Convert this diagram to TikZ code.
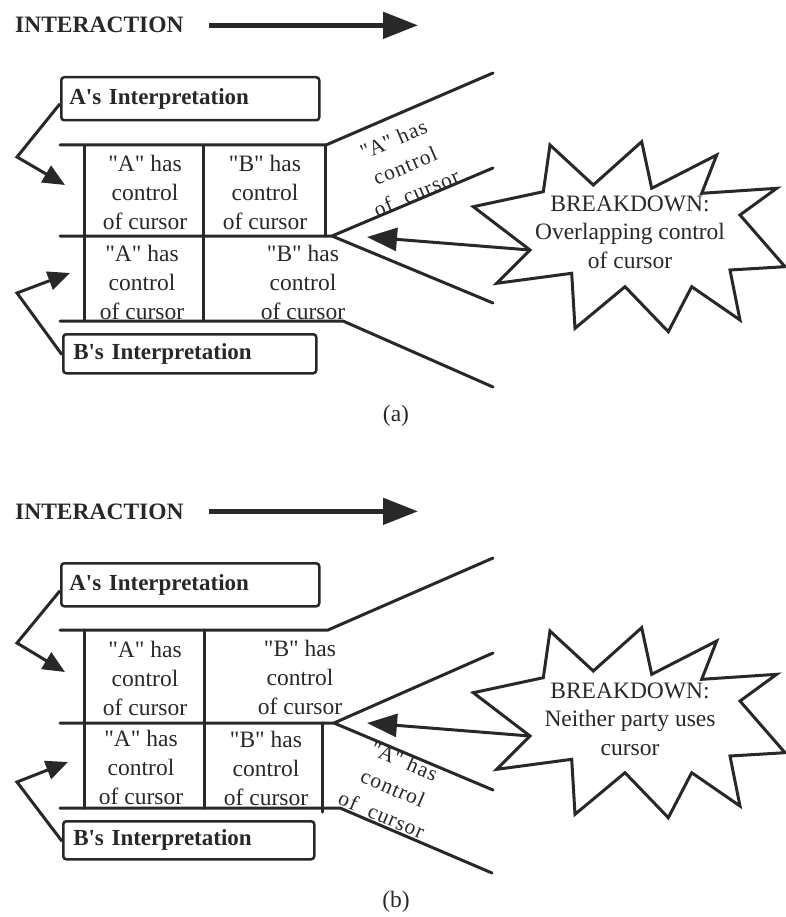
\documentclass[tikz,border=0pt]{standalone}
\usepackage{fontspec}
\setmainfont{Liberation Serif}
\usetikzlibrary{arrows.meta}
\definecolor{ink}{RGB}{40,40,40}
\newcommand\sq{\textquotesingle}
\newcommand\dq{\textquotedbl}
\begin{document}
\begin{tikzpicture}[x=1pt, y=-1pt,
  every node/.style={text=ink, inner sep=0pt},
  rule/.style={draw=ink, line width=3pt, line cap=round},
  heading/.style={anchor=base west, font=\bfseries\fontsize{23.5}{28}\selectfont},
  flowarrow/.style={draw=ink, line width=5pt, -{Triangle[length=35pt,width=26pt]}},
  labelbox/.style={draw=ink, line width=2.5pt, rounded corners=3pt, anchor=north west,
    minimum height=43pt, inner xsep=8pt, text width=242pt, align=left,
    font=\bfseries\fontsize{23}{28}\selectfont},
  labelarrow/.style={draw=ink, line width=3pt, -{Triangle[length=22pt,width=19pt]}},
  cell/.style={align=center, font=\fontsize{23.5}{29}\selectfont},
  slanted/.style={align=center, font=\fontsize{21.5}{29}\selectfont\addfontfeature{LetterSpace=5}},
  burstline/.style={draw=ink, line width=3pt, fill=white},
  bursttext/.style={align=center, font=\fontsize{23.5}{28.5}\selectfont},
  burstarrow/.style={draw=ink, line width=3pt, -{Triangle[length=30pt,width=23pt]}},
  caption/.style={font=\fontsize{23.5}{28}\selectfont}
]
\useasboundingbox (0,0) rectangle (785,917);

% ---------------- panel (a): overlapping control ----------------
\node[heading] (a-head) at (15,33) {INTERACTION};
\coordinate (a-flowend) at (418,25);
\draw[flowarrow] ([xshift=25pt]a-head.east) -- (a-head.east -| a-flowend);

\node[labelbox] (a-Abox) at (60,76) {A\sq s Interpretation};
\node[labelbox, minimum height=39pt, inner xsep=10pt, text width=233pt] (a-Bbox) at (62,333) {B\sq s Interpretation};

% time lines of the two interpretations
\coordinate (a-fork) at (332,236);
\draw[rule] (60,145) -- (326,145) -- (493,73);
\draw[rule] (60,236) -- (a-fork) -- (493,168);
\draw[rule] (a-fork) -- (493,303);
\draw[rule] (60,321) -- (343,321) -- (493,387);
\draw[rule] (84,145) -- (84,321);
\draw[rule] (203,145) -- (203,321);
\draw[rule] (325,145) -- (325,236);

\node[cell] (a-c11) at (145,192) {\dq A\dq{} has\\control\\of cursor};
\node[cell] (a-c12) at (265,192) {\dq B\dq{} has\\control\\of cursor};
\node[cell] (a-c21) at (142,282) {\dq A\dq{} has\\control\\of cursor};
\node[cell] (a-c22) at (303,282) {\dq B\dq{} has\\control\\of cursor};
\node[slanted, rotate=23] (a-slant) at (405,166) {\dq A\dq{} has\\control\\of\ \ cursor};

\draw[labelarrow] ([yshift=-5pt]a-Abox.west) -- (17,157) -- (65,185);
\draw[labelarrow] ([yshift=-1pt]a-Bbox.west) -- (17,293) -- (70,273);

% breakdown callout
\coordinate (a-burstin) at (530,250);
\draw[burstline] (473.3,206.7) -- (543.3,191.7) -- (550,145) -- (593.3,185)
  -- (641.7,141.7) -- (651.7,188.3) -- (716.7,155) -- (701.7,193.3)
  -- (776.7,188.3) -- (740,215) -- (785,266.7) -- (730,270) -- (740,320)
  -- (691.7,286.7) -- (668.3,331.7) -- (625,286.7) -- (575,328.3)
  -- (571.7,273.3) -- (496.7,283.3) -- (a-burstin) -- cycle;
\node[bursttext] (a-burst) at (630,232) {BREAKDOWN:\\Overlapping control\\of cursor};
\coordinate (a-tip) at (367,237);
\draw[burstarrow] (a-burstin) -- (a-tip);

\node[caption] (a-cap) at (396,416) {(a)};

% ---------------- panel (b): neither party uses the cursor ----------------
\begin{scope}[shift={(0,486)}]
\node[heading] (b-head) at (15,33) {INTERACTION};
\coordinate (b-flowend) at (418,25);
\draw[flowarrow] ([xshift=25pt]b-head.east) -- (b-head.east -| b-flowend);

\node[labelbox] (b-Abox) at (60,76) {A\sq s Interpretation};
\node[labelbox, minimum height=38pt, inner xsep=10pt, text width=231pt] (b-Bbox) at (62,334) {B\sq s Interpretation};

\coordinate (b-fork) at (334,237);
\draw[rule] (60,144) -- (328,144) -- (493,72);
\draw[rule] (60,237) -- (b-fork) -- (493,167);
\draw[rule] (b-fork) -- (493,304);
\draw[rule] (60,322) -- (340,322) -- (492,387);
\draw[rule] (84,144) -- (84,322);
\draw[rule] (204,144) -- (204,322);
\draw[rule] (322,237) -- (322,326);

\node[cell] (b-c11) at (145,192) {\dq A\dq{} has\\control\\of cursor};
\node[cell] (b-c12) at (300,191) {\dq B\dq{} has\\control\\of cursor};
\node[cell] (b-c21) at (141,281) {\dq A\dq{} has\\control\\of cursor};
\node[cell] (b-c22) at (266,282) {\dq B\dq{} has\\control\\of cursor};
\node[slanted, rotate=-23] (b-slant) at (393,302) {\dq A\dq{} has\\control\\of\ \ cursor};

\draw[labelarrow] ([yshift=-6pt]b-Abox.west) -- (17,157) -- (65,186);
\draw[labelarrow] ([yshift=-1pt]b-Bbox.west) -- (17,296) -- (68,276);

\coordinate (b-burstin) at (530,250);
\draw[burstline] (473.3,206.7) -- (543.3,191.7) -- (550,145) -- (593.3,185)
  -- (641.7,141.7) -- (651.7,188.3) -- (716.7,155) -- (701.7,193.3)
  -- (776.7,188.3) -- (740,215) -- (785,266.7) -- (730,270) -- (740,320)
  -- (691.7,286.7) -- (668.3,331.7) -- (625,286.7) -- (575,328.3)
  -- (571.7,273.3) -- (496.7,283.3) -- (b-burstin) -- cycle;
\node[bursttext] (b-burst) at (630,233) {BREAKDOWN:\\Neither party uses\\cursor};
\coordinate (b-tip) at (367,237);
\draw[burstarrow] (b-burstin) -- (b-tip);

\node[caption] (b-cap) at (396,416) {(b)};
\end{scope}
\end{tikzpicture}
\end{document}
